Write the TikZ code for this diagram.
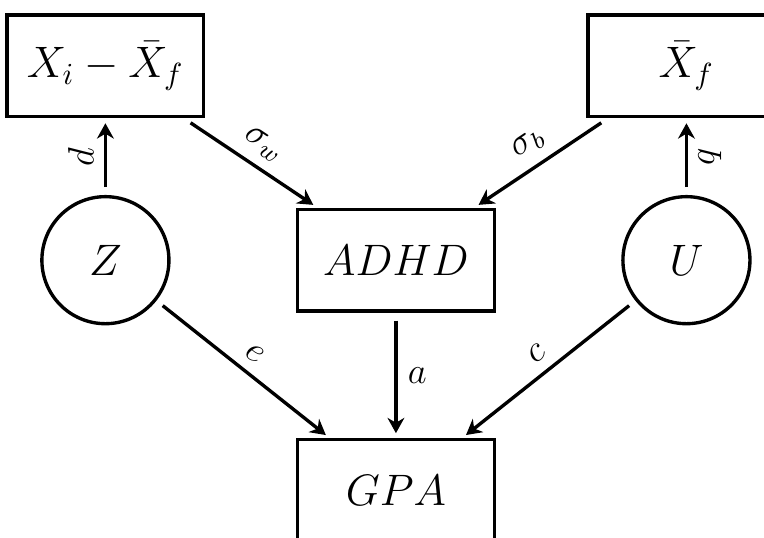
\documentclass[tikz,border=0pt]{standalone}
\usepackage{amsmath}
\usepackage{tikz}
\usetikzlibrary{positioning,arrows.meta}

\begin{document}
\begin{tikzpicture}[
    font=\Large,
    var/.style={draw,line width=1.1pt,minimum width=2.26cm,minimum height=1.17cm},
    latent/.style={draw,circle,line width=1.1pt,minimum size=1.46cm},
    link/.style={-{Stealth[length=5pt,width=5.5pt,inset=1.6pt]},line width=1.1pt,
                 shorten <=2.6pt,shorten >=1.6pt},
    coef/.style={font=\large,midway,sloped,above},
]
\useasboundingbox (-4.55,-3.19) rectangle (4.23,2.99);
% --- middle column ---
\node[var] (adhd) at (0,0) {$ADHD$};
\node[var,below=1.44cm of adhd] (gpa) {$GPA$};

% latent causes on either side
\node[latent,left=1.44cm of adhd]  (z) {$Z$};
\node[latent,right=1.44cm of adhd] (u) {$U$};

% within / between parts of X
\node[var,above=0.88cm of z] (xw) {$X_i-\bar{X}_f$};
\node[var,above=0.88cm of u] (xb) {$\bar{X}_f$};

% paths
\draw[link] (z) -- (xw) node[coef] {$d$};
\draw[link] (u) -- (xb) node[coef,below] {$q$};
\draw[link] (xw) -- (adhd) node[coef] {$\sigma_w$};
\draw[link] (xb) -- (adhd) node[coef] {$\sigma_b$};
\draw[link] (z) -- (gpa) node[coef] {$e$};
\draw[link] (adhd) -- (gpa) node[midway,right,font=\large] {$a$};
\draw[link] (u) -- (gpa) node[coef] {$c$};
\end{tikzpicture}
\end{document}
